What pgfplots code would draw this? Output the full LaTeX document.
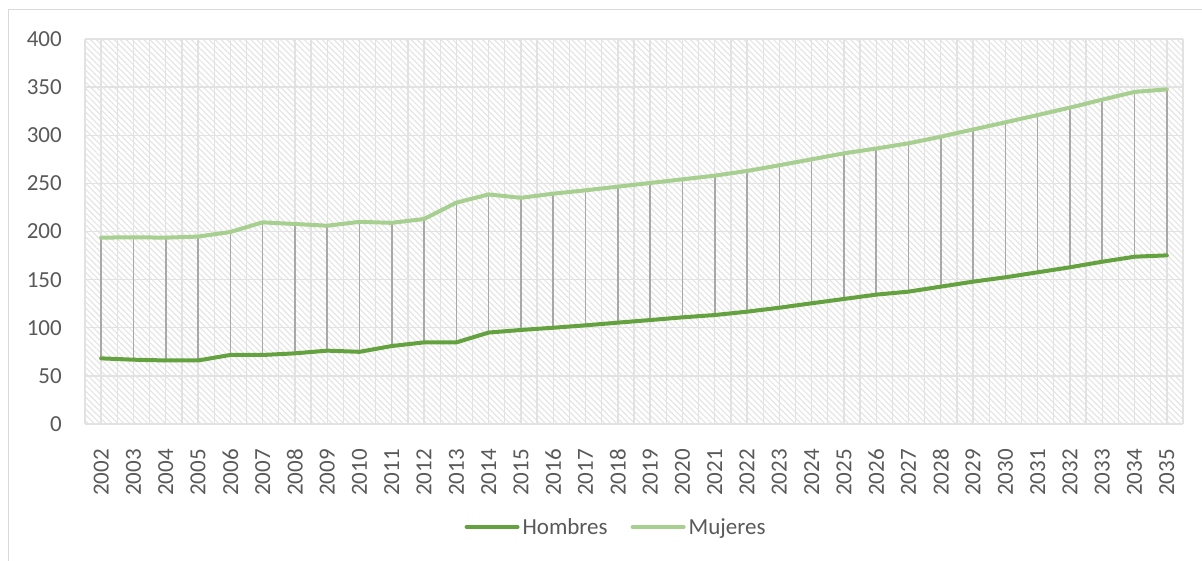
\documentclass[border=0pt]{standalone}
\usepackage{fontspec}
\setmainfont{Carlito}
\usepackage{pgfplots}
\pgfplotsset{compat=1.18}
\usetikzlibrary{patterns.meta}
\definecolor{hombres}{HTML}{64A13F}
\definecolor{mujeres}{HTML}{A6CF90}
\definecolor{dropgray}{HTML}{A8A8A8}
\definecolor{gridgray}{HTML}{E2E2E2}
\definecolor{tickgray}{HTML}{595959}
\definecolor{framegray}{HTML}{D9D9D9}
\begin{document}
\begin{tikzpicture}
\useasboundingbox (0,0) rectangle (1202pt,561pt);
\draw[framegray, line width=1.5pt] (8.5pt,0pt) -- (8.5pt,551.5pt) -- (1202pt,551.5pt);
\begin{axis}[
  at={(85pt,137pt)}, anchor=south west,
  scale only axis, width=1098pt, height=385pt,
  xmin=-0.5, xmax=33.5, ymin=0, ymax=400,
  axis line style={draw=none},
  axis background/.style={pattern={Lines[angle=-45,distance=4.2pt,line width=1.2pt]}, pattern color=black!10},
  xtick={0,...,33},
  xticklabels={2002,2003,2004,2005,2006,2007,2008,2009,2010,2011,2012,2013,2014,2015,2016,2017,2018,2019,2020,2021,2022,2023,2024,2025,2026,2027,2028,2029,2030,2031,2032,2033,2034,2035},
  minor xtick={-0.5,0.5,...,33.5},
  ytick={0,50,...,400},
  major tick length=0pt, minor tick length=0pt,
  xmajorgrids, xminorgrids, ymajorgrids,
  major grid style={gridgray, line width=1.3pt},
  minor grid style={gridgray, line width=1.3pt},
  /pgf/number format/assume math mode=true,
  ticklabel style={font=\fontsize{23}{27}\selectfont, text=tickgray, inner sep=0pt},
  xticklabel style={rotate=90, anchor=east},
  yticklabel style={anchor=east},
  xticklabel shift=25pt,
  yticklabel shift=23pt,
  legend style={font=\fontsize{23}{27}\selectfont, text=tickgray, draw=none, fill=none,
    legend columns=2, at={(rel axis cs:0.4841,-0.2675)}, anchor=center,
    /tikz/every even column/.append style={column sep=20pt},
    nodes={inner sep=3pt}},
  legend image code/.code={\draw[#1] (0pt,0pt) -- (51pt,0pt);},
]
\addplot[forget plot, draw=none, mark=none,
  error bars/.cd, y dir=minus, y explicit,
  error bar style={draw=dropgray, line width=1.6pt}, error mark=none]
  table[x=x, y=m, y error expr=\thisrow{m}-\thisrow{h}] {
x h m
0 68.2 193.6
1 66.8 194.0
2 66.0 193.6
3 66.0 194.7
4 71.7 199.5
5 71.7 209.5
6 73.4 207.8
7 76.2 206.0
8 75.0 210.0
9 81.0 209.0
10 84.8 213.0
11 84.8 230.0
12 95.0 238.5
13 97.7 235.0
14 100.0 239.3
15 102.5 242.8
16 105.3 246.6
17 108.0 250.4
18 110.8 254.2
19 113.2 258.0
20 116.7 262.9
21 120.8 268.8
22 125.4 275.0
23 129.9 281.2
24 134.4 286.2
25 137.5 291.6
26 142.7 298.5
27 147.9 306.0
28 152.4 313.4
29 157.6 321.0
30 162.8 328.7
31 168.6 337.0
32 173.8 345.0
33 175.2 347.7
};
\addplot[hombres, line width=4pt, line join=round, line cap=round, mark=none] coordinates {
(0,68.2) (1,66.8) (2,66.0) (3,66.0) (4,71.7) (5,71.7) (6,73.4) (7,76.2) (8,75.0) (9,81.0)
(10,84.8) (11,84.8) (12,95.0) (13,97.7) (14,100.0) (15,102.5) (16,105.3) (17,108.0) (18,110.8) (19,113.2)
(20,116.7) (21,120.8) (22,125.4) (23,129.9) (24,134.4) (25,137.5) (26,142.7) (27,147.9) (28,152.4) (29,157.6)
(30,162.8) (31,168.6) (32,173.8) (33,175.2)
};
\addlegendentry{Hombres}
\addplot[mujeres, line width=4pt, line join=round, line cap=round, mark=none] coordinates {
(0,193.6) (1,194.0) (2,193.6) (3,194.7) (4,199.5) (5,209.5) (6,207.8) (7,206.0) (8,210.0) (9,209.0)
(10,213.0) (11,230.0) (12,238.5) (13,235.0) (14,239.3) (15,242.8) (16,246.6) (17,250.4) (18,254.2) (19,258.0)
(20,262.9) (21,268.8) (22,275.0) (23,281.2) (24,286.2) (25,291.6) (26,298.5) (27,306.0) (28,313.4) (29,321.0)
(30,328.7) (31,337.0) (32,345.0) (33,347.7)
};
\addlegendentry{Mujeres}
\end{axis}
\end{tikzpicture}
\end{document}
